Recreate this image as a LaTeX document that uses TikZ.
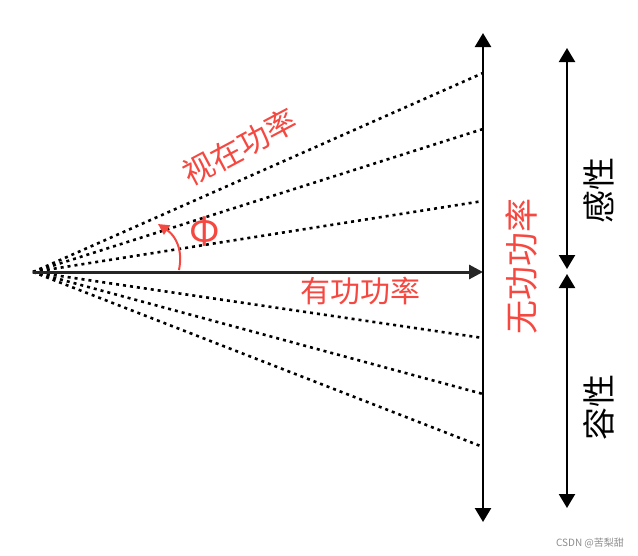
\documentclass[tikz,border=0pt]{standalone}
\usepackage{fontspec}
\newfontfamily\cjk{Noto Sans CJK SC}
\usetikzlibrary{arrows.meta}
\definecolor{redtxt}{RGB}{245,72,64}
\tikzset{
  dotline/.style={line width=2.6pt, dash pattern=on 3pt off 4pt, black},
  axis/.style={line width=2.5pt, black, {Triangle[length=14pt,width=16pt]}-{Triangle[length=14pt,width=16pt]}},
  redlabel/.style={text=redtxt, font=\cjk\fontsize{30}{30}\selectfont, inner sep=0pt},
  blacklabel/.style={text=black, font=\cjk\fontsize{33}{33}\selectfont, inner sep=0pt},
}
\begin{document}
\begin{tikzpicture}[x=1pt,y=-1pt]
\useasboundingbox (0,0) rectangle (638,555);
\coordinate (O) at (33,272);
\coordinate (H) at (483,272);
\coordinate (VT) at (483,33);
\coordinate (VB) at (483,522);
\coordinate (u1) at (483,73);
\coordinate (u2) at (483,129);
\coordinate (u3) at (483,201);
\coordinate (d1) at (483,338);
\coordinate (d2) at (483,394);
\coordinate (d3) at (483,447);
\coordinate (RT) at (567,48);
\coordinate (RM1) at (567,269);
\coordinate (RM2) at (567,274);
\coordinate (RB) at (567,508);
\coordinate (A0) at (179,270);
\coordinate (A1) at (158,224);
% dotted lines
\foreach \p in {u1,u2,u3,d1,d2,d3}{\draw[dotline] (O) -- (\p);}
% active power arrow
\draw[line width=3pt, black!85, -{Triangle[length=14pt,width=14pt]}] (O) -- (H);
% reactive axis
\draw[axis] (VB) -- (VT);
% inductive / capacitive
\draw[axis, line width=2.2pt] (RM1) -- (RT);
\draw[axis, line width=2.2pt] (RM2) -- (RB);
% angle arrow
\draw[redtxt, line width=2pt, -{Triangle[length=11pt,width=11pt]}] (A0) .. controls (183,250) and (176,236) .. (A1);
% labels
\node[redlabel, font=\cjk\fontsize{31}{31}\selectfont, rotate=28] (S) at (240,147) {视在功率};
\node[redlabel] (P) at (360,291) {有功功率};
\node[redlabel, font=\cjk\fontsize{34}{34}\selectfont, rotate=90] (Q) at (521,266) {无功功率};
\node[redlabel, font=\cjk\fontsize{38}{38}\selectfont] (phi) at (205,232) {Φ};
\node[blacklabel, rotate=90] (L) at (599,190) {感性};
\node[blacklabel, rotate=90] (C) at (599,407) {容性};
\node[text=black!45, font=\cjk\fontsize{10}{10}\selectfont, inner sep=0pt] (wm) at (590,543) {CSDN @苦梨甜};
\end{tikzpicture}
\end{document}
